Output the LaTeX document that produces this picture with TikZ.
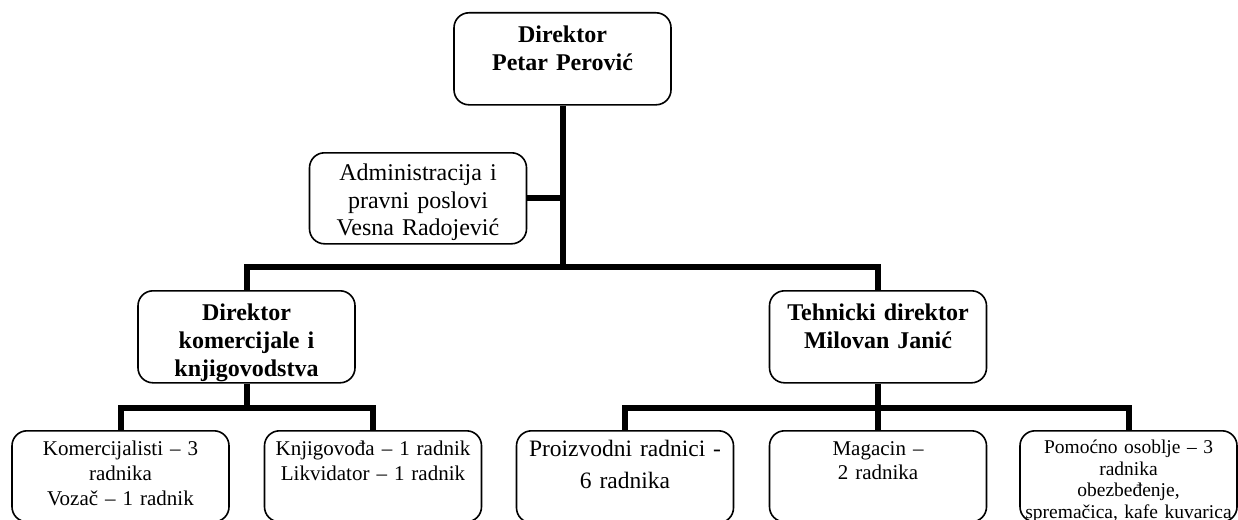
\documentclass[tikz,border=0pt]{standalone}
\usepackage{fontspec}
\setmainfont{Liberation Serif}
\begin{document}
\begin{tikzpicture}[x=1pt, y=-1pt,
        unit/.style={draw, line width=1.6pt, rounded corners=15pt, anchor=north,
            inner xsep=4pt, inner ysep=0pt, text width=209pt, align=center},
        boss/.style={unit, font=\fontsize{24}{28}\selectfont\bfseries, text height=30pt, text depth=62pt},
        office/.style={unit, font=\fontsize{24}{27.5}\selectfont, text height=28pt, text depth=63pt},
        crew/.style={unit, font=\fontsize{21}{25}\selectfont, text height=25pt, text depth=66pt},
        link/.style={line width=6pt}]
        \path[use as bounding box, fill=white] (0,0) rectangle (1238,519);

        \node[boss] (dir) at (562.5,12) {Direktor\\Petar Perović};
        \node[office] (adm) at (418,152) {Administracija i\\pravni poslovi\\Vesna Radojević};

        \node[boss] (kom) at (246.5,290) {Direktor\\komercijale i\\knjigovodstva};
        \node[boss] (teh) at (878,290) {Tehnicki direktor\\Milovan Janić};

        \node[crew] (kr1) at (120.5,430) {Komercijalisti – 3\\radnika\\Vozač – 1 radnik};
        \node[crew] (kr2) at (373,430) {Knjigovođa – 1 radnik\\Likvidator – 1 radnik};
        \node[crew, font=\fontsize{23.5}{32}\selectfont, text height=26pt] (tr1) at (625,430) {Proizvodni radnici -\\6 radnika};
        \node[crew, font=\fontsize{21}{24}\selectfont] (tr2) at (878,430) {Magacin –\\2 radnika};
        \node[crew, font=\fontsize{19.5}{21.5}\selectfont, text height=23pt, text depth=68pt] (tr3) at (1128.5,430) {Pomoćno osoblje – 3\\radnika\\obezbeđenje,\\spremačica, kafe kuvarica};

        \coordinate (hub) at (562.5,267);
        \draw[link] (dir) -- (hub);
        \draw[link] (adm.east) -- (adm.east -| hub);
        \draw[link] (kom.north) |- (hub) -| (teh.north);

        \coordinate (kfork) at (246.5,408);
        \draw[link] (kom) -- (kfork);
        \draw[link] (kr1.north) |- (kfork) -| (kr2.north);

        \coordinate (tfork) at (878,408);
        \draw[link] (teh) -- (tr2);
        \draw[link] (tr1.north) |- (tfork) -| (tr3.north);
\end{tikzpicture}
\end{document}
